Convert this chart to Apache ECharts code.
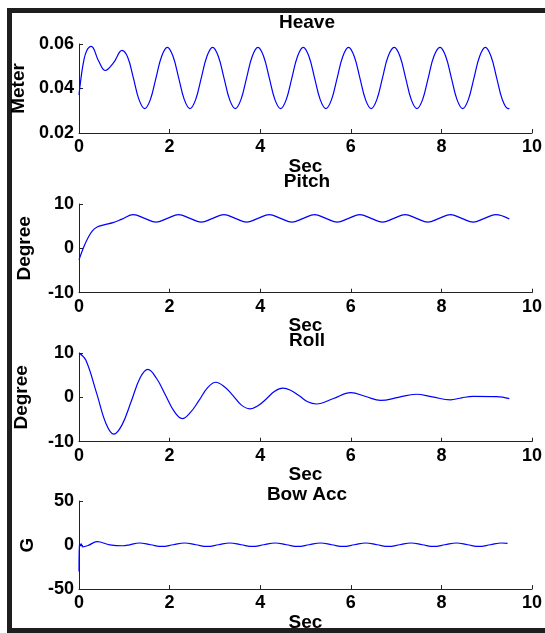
<!DOCTYPE html>
<html>
<head>
<meta charset="utf-8">
<script src="https://cdn.jsdelivr.net/npm/echarts@6/dist/echarts.min.js"></script>
<style>
html,body{margin:0;padding:0;background:#fff;}
#c{width:545px;height:633px;}
</style>
</head>
<body>
<div id="c"></div>
<script>
// ---- Data ----
var titles = ['Heave', 'Pitch', 'Roll', 'Bow Acc'];
var yNames = ['Meter', 'Degree', 'Degree', 'G'];
var xName = 'Sec';
var xTicks = [0, 2, 4, 6, 8, 10];
var yTicksHeave = [0.02, 0.04, 0.06];
var yTicksPitch = [-10, 0, 10];
var yTicksRoll = [-10, 0, 10];
var yTicksBow = [-50, 0, 50];

var heaveT = [0, 0.04, 0.1, 0.17, 0.27, 0.43, 0.58, 0.76, 0.95, 1.075, 1.2, 1.325, 1.45,
  1.575, 1.7, 1.825, 1.95,
  2.075, 2.2, 2.325, 2.45, 2.575, 2.7, 2.825, 2.95,
  3.075, 3.2, 3.325, 3.45, 3.575, 3.7, 3.825, 3.95,
  4.075, 4.2, 4.325, 4.45, 4.575, 4.7, 4.825, 4.95,
  5.075, 5.2, 5.325, 5.45, 5.575, 5.7, 5.825, 5.95,
  6.075, 6.2, 6.325, 6.45, 6.575, 6.7, 6.825, 6.96,
  7.085, 7.21, 7.335, 7.46, 7.585, 7.71, 7.835, 7.97,
  8.095, 8.22, 8.345, 8.47, 8.595, 8.72, 8.845, 8.97,
  9.095, 9.22, 9.345, 9.47, 9.5];
var heaveV = [0.0372, 0.044, 0.052, 0.057, 0.0589, 0.0525, 0.0481, 0.0515, 0.0571, 0.054, 0.0448, 0.035, 0.031,
  0.035, 0.0448, 0.0545, 0.0585,
  0.0545, 0.0448, 0.035, 0.031, 0.035, 0.0448, 0.0545, 0.0585,
  0.0545, 0.0448, 0.035, 0.031, 0.035, 0.0448, 0.0545, 0.0585,
  0.0545, 0.0448, 0.035, 0.031, 0.035, 0.0448, 0.0545, 0.0585,
  0.0545, 0.0448, 0.035, 0.031, 0.035, 0.0448, 0.0545, 0.0585,
  0.0545, 0.0448, 0.035, 0.031, 0.035, 0.0448, 0.0545, 0.0585,
  0.0545, 0.0448, 0.035, 0.031, 0.035, 0.0448, 0.0545, 0.0585,
  0.0545, 0.0448, 0.035, 0.031, 0.035, 0.0448, 0.0545, 0.0585,
  0.0545, 0.0448, 0.035, 0.031, 0.0311];

var pitchT = [0, 0.1, 0.2, 0.3, 0.4, 0.55, 0.75, 0.95, 1.2, 1.45, 1.7, 1.95, 2.2, 2.45, 2.7, 2.95, 3.2, 3.45, 3.7, 3.95, 4.2, 4.45, 4.7, 4.95, 5.2, 5.45, 5.7, 5.95, 6.2, 6.45, 6.7, 6.95, 7.2, 7.45, 7.7, 7.95, 8.2, 8.45, 8.7, 8.95, 9.2, 9.5];
var pitchV = [-2.6, 0.2, 2.4, 4.0, 4.8, 5.3, 5.8, 6.6, 7.6, 6.75, 5.9, 6.75, 7.6, 6.75, 5.9, 6.75, 7.6, 6.75, 5.9, 6.75, 7.6, 6.75, 5.9, 6.75, 7.6, 6.75, 5.9, 6.75, 7.6, 6.75, 5.9, 6.75, 7.6, 6.75, 5.9, 6.75, 7.6, 6.75, 5.9, 6.75, 7.6, 6.6];

var rollT = [0, 0.15, 0.39, 0.6, 0.77, 0.95, 1.15, 1.35, 1.52, 1.71, 1.9, 2.09, 2.28, 2.46, 2.65, 2.84, 3.02, 3.21, 3.4, 3.58, 3.77, 3.95, 4.14, 4.32, 4.5, 4.69, 4.87, 5.05, 5.24, 5.62, 6.0, 6.33, 6.66, 7.05, 7.44, 7.8, 8.2, 8.45, 8.7, 9.22, 9.5];
var rollV = [10, 8.4, 0.9, -6.0, -8.3, -6.2, -1.0, 4.4, 6.3, 4.3, 0.7, -3.0, -4.8, -3.4, -0.7, 2.2, 3.4, 2.4, 0.4, -1.7, -2.6, -1.9, -0.3, 1.4, 2.1, 1.5, 0.3, -1.0, -1.5, -0.25, 1.05, 0.2, -0.7, 0.0, 0.7, 0.1, -0.55, -0.1, 0.2, 0.15, -0.3];

var bowT = [0, 0.01, 0.03, 0.05, 0.08, 0.2, 0.4, 0.68, 0.97, 1.12, 1.33, 1.58, 1.83, 2.08, 2.33, 2.58, 2.83, 3.08, 3.33, 3.58, 3.83, 4.08, 4.33, 4.58, 4.83, 5.08, 5.33, 5.58, 5.83, 6.08, 6.33, 6.58, 6.83, 7.08, 7.33, 7.58, 7.83, 8.08, 8.33, 8.58, 8.83, 9.08, 9.33, 9.46];
var bowV = [-30, 2.5, -1, 1.5, -2, -0.5, 3.8, 0.3, -0.8, 0.3, 2.3, 0.35, -1.6, 0.35, 2.3, 0.35, -1.6, 0.35, 2.3, 0.35, -1.6, 0.35, 2.3, 0.35, -1.6, 0.35, 2.3, 0.35, -1.6, 0.35, 2.3, 0.35, -1.6, 0.35, 2.3, 0.35, -1.6, 0.35, 2.3, 0.35, -1.6, 0.35, 2.3, 1.8];

function pairs(t, v) { return t.map(function (x, i) { return [x, v[i]]; }); }

var FONT = "'Liberation Sans', Arial, sans-serif";
var grids = [
  {left: 79, top: 44, width: 456.5, height: 89},
  {left: 79, top: 204, width: 456.5, height: 88.7},
  {left: 79, top: 353, width: 456.5, height: 88.7},
  {left: 79, top: 501, width: 456.5, height: 88.5}
];
var titleTops = [13, 172, 331, 485];
var xNameGaps = [17, 17, 19, 23];
var yNameGaps = [48, 45, 48, 38];
var yTickSets = [yTicksHeave, yTicksPitch, yTicksRoll, yTicksBow];
var seriesData = [pairs(heaveT, heaveV), pairs(pitchT, pitchV), pairs(rollT, rollV), pairs(bowT, bowV)];

var axisLine = {show: true, onZero: false, lineStyle: {color: '#222', width: 1}};
var axisTick = {show: true, inside: true, length: 4, lineStyle: {color: '#222', width: 1}};
var labelStyle = {color: '#000', fontFamily: FONT, fontWeight: 'bold', fontSize: 18};

var option = {
  animation: false,
  backgroundColor: '#fff',
  title: titles.map(function (t, i) {
    return {text: t, left: 307, top: titleTops[i], textAlign: 'center', padding: 0,
      textStyle: {color: '#000', fontFamily: FONT, fontWeight: 'bold', fontSize: 19}};
  }),
  grid: grids,
  xAxis: grids.map(function (g, i) {
    return {type: 'value', gridIndex: i, min: xTicks[0], max: xTicks[xTicks.length - 1],
      interval: xTicks[1] - xTicks[0],
      name: xName, nameLocation: 'middle', nameGap: xNameGaps[i],
      nameTextStyle: {color: '#000', fontFamily: FONT, fontWeight: 'bold', fontSize: 19},
      axisLine: axisLine, axisTick: axisTick, splitLine: {show: false},
      axisLabel: Object.assign({margin: 5}, labelStyle)};
  }),
  yAxis: grids.map(function (g, i) {
    var tk = yTickSets[i];
    return {type: 'value', gridIndex: i, min: tk[0], max: tk[tk.length - 1], interval: tk[1] - tk[0],
      name: yNames[i], nameLocation: 'middle', nameGap: yNameGaps[i],
      nameTextStyle: {color: '#000', fontFamily: FONT, fontWeight: 'bold', fontSize: 19},
      axisLine: axisLine, axisTick: axisTick, splitLine: {show: false},
      axisLabel: Object.assign({margin: 5, formatter: function (v) {
        return i === 0 ? v.toFixed(2) : String(Math.round(v));
      }}, labelStyle)};
  }),
  series: seriesData.map(function (d, i) {
    return {type: 'line', xAxisIndex: i, yAxisIndex: i, data: d, smooth: 0.4,
      showSymbol: false, symbol: 'none', lineStyle: {color: '#0000ff', width: 1.2}};
  }),
  graphic: [{type: 'rect', silent: true,
    shape: {x: 9.5, y: 10.5, width: 560, height: 620},
    style: {fill: null, stroke: '#1e1e1e', lineWidth: 5}}]
};

var chart = echarts.init(document.getElementById('c'), null, {renderer: 'canvas'});
chart.setOption(option);
</script>
</body>
</html>
